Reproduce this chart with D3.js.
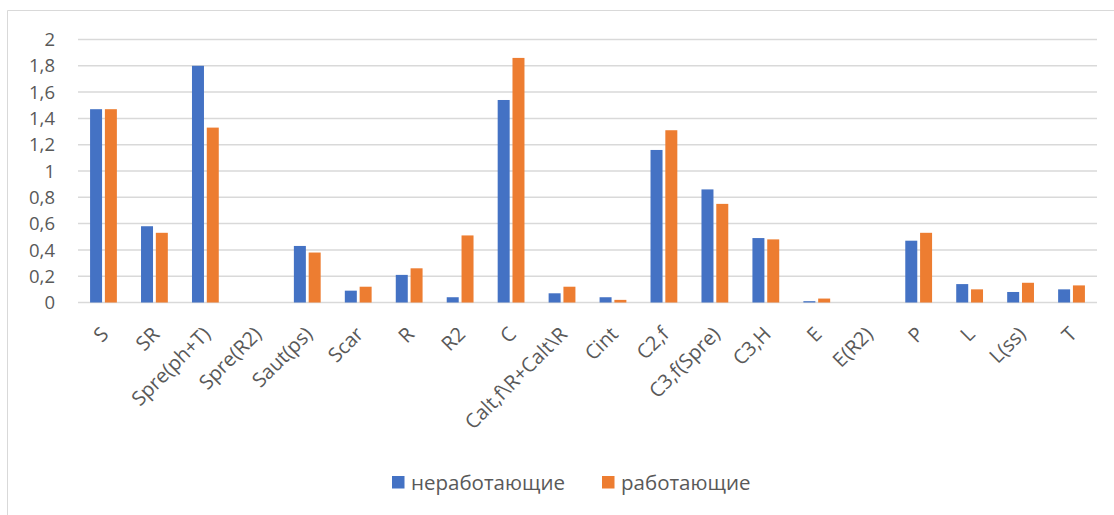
<!DOCTYPE html>
<html><head><meta charset="utf-8">
<script src="https://cdn.jsdelivr.net/npm/d3@7/dist/d3.min.js"></script>
<style>
html,body{margin:0;padding:0;background:#fff;}
svg{display:block;}
text{font-family:"Open Sans",sans-serif;fill:#595959;}
</style></head>
<body>
<svg id="c" width="1114" height="515"></svg>
<script>
const categories = ["S","SR","Spre(ph+T)","Spre(R2)","Saut(ps)","Scar","R","R2","C","Calt,f\\R+Calt\\R","Cint","C2,f","C3,f(Spre)","C3,H","E","E(R2)","P","L","L(ss)","T"];
const seriesNames = ["неработающие","работающие"];
const nonWorking = [1.47,0.58,1.8,0,0.43,0.09,0.21,0.04,1.54,0.07,0.04,1.16,0.86,0.49,0.01,0,0.47,0.14,0.08,0.10];
const working    = [1.47,0.53,1.33,0,0.38,0.12,0.26,0.51,1.86,0.12,0.02,1.31,0.75,0.48,0.03,0,0.53,0.10,0.15,0.13];
const yTicks = [0,0.2,0.4,0.6,0.8,1,1.2,1.4,1.6,1.8,2];
const colors = ["#4472C4","#ED7D31"];

const svg = d3.select("#c");
// chart frame
svg.append("path").attr("d","M7.5,515 V10.5 H1114").attr("fill","none").attr("stroke","#d9d9d9").attr("stroke-width",1);

const x0 = d3.scaleBand().domain(categories).range([78,1097]).paddingInner(0.474).paddingOuter(0.237);
const x1 = d3.scaleBand().domain(seriesNames).range([0,x0.bandwidth()]).paddingInner(0.19);
const y = d3.scaleLinear().domain([0,2]).range([302.5,39.5]);

// gridlines
svg.append("g").selectAll("line").data(yTicks).join("line")
  .attr("x1",78).attr("x2",1097)
  .attr("y1",d=>y(d)).attr("y2",d=>y(d))
  .attr("stroke","#d9d9d9").attr("stroke-width",1.5);

// y axis labels
const fmt = d => String(d).replace(".",",");
svg.append("g").selectAll("text").data(yTicks).join("text")
  .attr("x",55).attr("y",d=>y(d)).attr("dy","0.36em")
  .attr("text-anchor","end").attr("font-size",18.5).text(fmt);

// bars
const data = categories.map((c,i)=>({c, vals:[nonWorking[i],working[i]]}));
const g = svg.append("g").selectAll("g").data(data).join("g")
  .attr("transform",d=>`translate(${x0(d.c)},0)`);
g.selectAll("rect").data(d=>d.vals.map((v,j)=>({v,s:seriesNames[j],j}))).join("rect")
  .attr("x",d=>x1(d.s)).attr("width",x1.bandwidth())
  .attr("y",d=>y(d.v)).attr("height",d=>y(0)-y(d.v))
  .attr("fill",d=>colors[d.j]);

// x labels
svg.append("g").selectAll("text").data(categories).join("text")
  .attr("transform",d=>`translate(${x0(d)+x0.bandwidth()/2-3.5},${325.5}) rotate(-45)`)
  .attr("text-anchor","end").attr("dy","0.7em").attr("font-size",20).text(d=>d);

// legend
const leg = [{x:392,t:seriesNames[0],c:colors[0]},{x:602,t:seriesNames[1],c:colors[1]}];
const lg = svg.append("g").selectAll("g").data(leg).join("g");
lg.append("rect").attr("x",d=>d.x).attr("y",476).attr("width",12.5).attr("height",12.5).attr("fill",d=>d.c);
lg.append("text").attr("x",d=>d.x+19).attr("y",489.5).attr("font-size",20.5).text(d=>d.t);
</script>
</body></html>
